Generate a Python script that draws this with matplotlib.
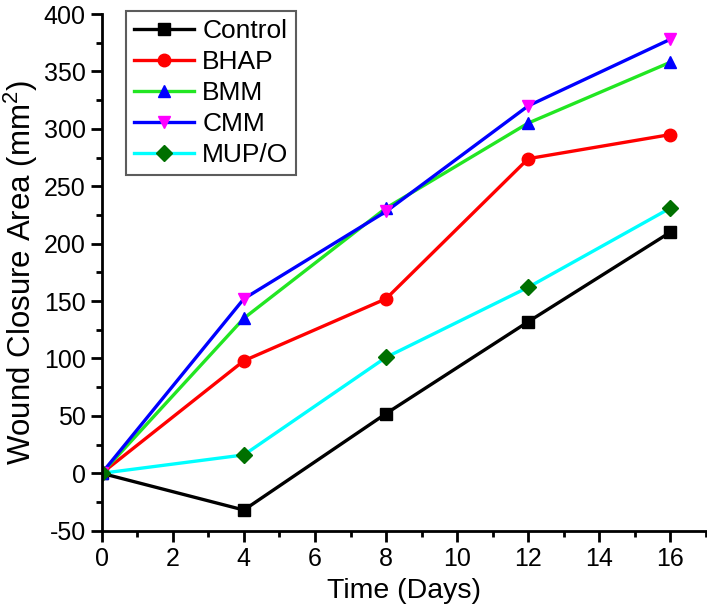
import matplotlib
matplotlib.use("Agg")
import matplotlib.pyplot as plt
from matplotlib.ticker import MultipleLocator

plt.rcParams['font.family'] = ['Liberation Sans', 'DejaVu Sans']
plt.rcParams['axes.unicode_minus'] = False
plt.rcParams['mathtext.fontset'] = 'custom'
plt.rcParams['mathtext.rm'] = 'Liberation Sans'

days = [0, 4, 8, 12, 16]
control = [0, -32, 52, 132, 210]
bhap = [0, 98, 152, 274, 295]
bmm = [0, 135, 231, 305, 358]
cmm = [0, 152, 228, 320, 378]
mupo = [0, 16, 101, 162, 231]

series = [
    ("Control", control, "black", "s", "black"),
    ("BHAP", bhap, "#ff0000", "o", "#ff0000"),
    ("BMM", bmm, "#22e622", "^", "#0000ff"),
    ("CMM", cmm, "#0000ff", "v", "#ff00ff"),
    ("MUP/O", mupo, "#00ffff", "D", "#007000"),
]

fig = plt.figure(figsize=(7.07, 6.08), dpi=100)
ax = fig.add_axes([101.7 / 707, 1 - 530.7 / 608, (707 - 101.7) / 707, (530.7 - 14) / 608])

for name, vals, lc, mk, mc in series:
    ax.plot(days, vals, color=lc, lw=2.4, marker=mk, markersize=9 if mk != "D" else 8,
            markerfacecolor=mc, markeredgecolor=mc, label=name)

ax.set_xlim(0, 17.03)
ax.set_ylim(-50, 400)
ax.xaxis.set_major_locator(MultipleLocator(2))
ax.xaxis.set_minor_locator(MultipleLocator(1))
ax.yaxis.set_major_locator(MultipleLocator(50))
ax.yaxis.set_minor_locator(MultipleLocator(25))
for s in ["top", "right"]:
    ax.spines[s].set_visible(False)
for s in ["left", "bottom"]:
    ax.spines[s].set_linewidth(2.0)
ax.tick_params(which="major", direction="out", length=8, width=2, labelsize=18)
ax.tick_params(which="minor", direction="out", length=4.5, width=2)

ax.set_xlabel("Time (Days)", fontsize=20.5, labelpad=5)
ax.set_ylabel("Wound Closure Area (mm$^\\mathregular{2}$)", fontsize=22.5, labelpad=3)

leg = ax.legend(loc="upper left", bbox_to_anchor=(125.7 / 707, 1 - 11 / 608),
                bbox_transform=fig.transFigure, fontsize=19, frameon=True,
                fancybox=False, edgecolor="#333333", handlelength=2.3,
                handletextpad=0.3, labelspacing=0.27, borderpad=0.3, borderaxespad=0)
leg.get_frame().set_linewidth(1.5)

fig.savefig("out.png", dpi=100)
